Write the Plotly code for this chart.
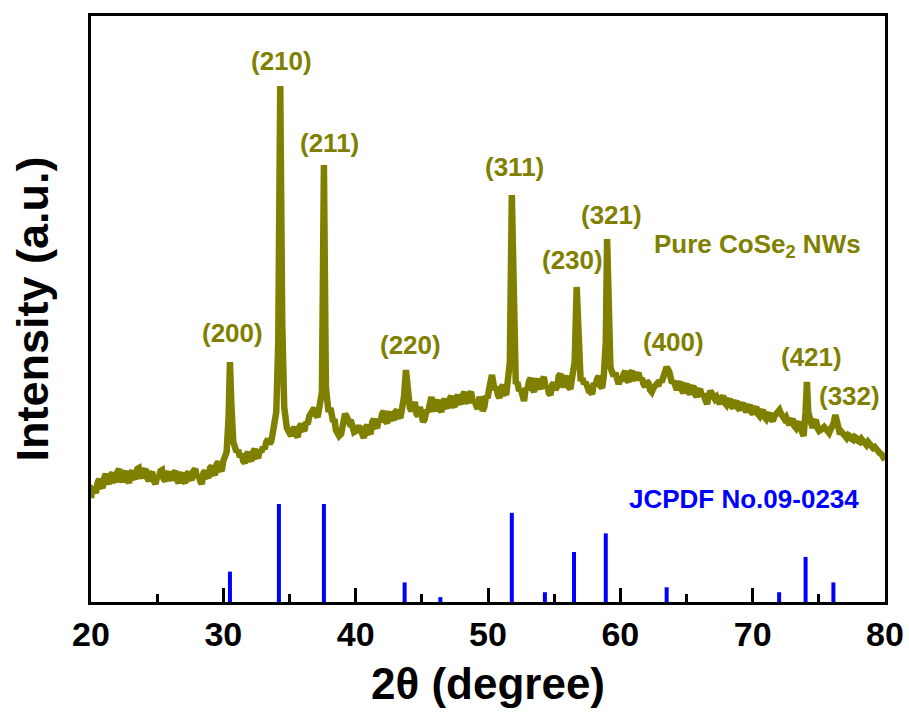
import plotly.graph_objects as go

# Measured XRD pattern of the CoSe2 nanowires (2theta in degrees, intensity in a.u.)
two_theta = [
    20.0, 20.25, 20.5, 20.75, 21.0, 21.25, 21.5, 21.75, 22.0, 22.25, 22.5, 22.75,
    23.0, 23.25, 23.5, 23.75, 24.0, 24.25, 24.5, 24.75, 25.0, 25.25, 25.5, 25.75,
    26.0, 26.25, 26.5, 26.75, 27.0, 27.25, 27.5, 27.75, 28.0, 28.25, 28.5, 28.75,
    29.0, 29.25, 29.5, 29.75, 30.0, 30.25, 30.4, 30.5, 30.6, 30.75, 31.0, 31.25,
    31.5, 31.75, 32.0, 32.25, 32.5, 32.75, 33.0, 33.25, 33.5, 33.75, 34.0, 34.15,
    34.3, 34.45, 34.6, 34.8, 35.0, 35.25, 35.5, 35.75, 36.0, 36.25, 36.5, 36.75,
    37.0, 37.25, 37.45, 37.6, 37.75, 37.95, 38.1, 38.3, 38.5, 38.75, 38.9, 39.1,
    39.3, 39.5, 39.75, 40.0, 40.25, 40.5, 40.75, 41.0, 41.25, 41.5, 41.75, 42.0,
    42.25, 42.5, 42.75, 43.0, 43.25, 43.5, 43.65, 43.8, 43.95, 44.1, 44.35, 44.6,
    44.85, 45.1, 45.35, 45.6, 45.85, 46.1, 46.35, 46.6, 46.85, 47.1, 47.35, 47.6,
    47.85, 48.1, 48.35, 48.6, 48.85, 49.1, 49.35, 49.6, 49.85, 50.1, 50.3, 50.5,
    50.75, 51.0, 51.25, 51.5, 51.65, 51.8, 51.95, 52.1, 52.35, 52.6, 52.85, 53.1,
    53.35, 53.6, 53.85, 54.1, 54.35, 54.6, 54.85, 55.1, 55.35, 55.6, 55.85, 56.1,
    56.35, 56.55, 56.7, 56.85, 57.0, 57.25, 57.5, 57.75, 58.0, 58.25, 58.5, 58.75,
    58.9, 59.0, 59.1, 59.25, 59.5, 59.75, 60.0, 60.25, 60.5, 60.75, 61.0, 61.25,
    61.5, 61.75, 62.0, 62.25, 62.5, 62.75, 63.0, 63.25, 63.5, 63.7, 63.9, 64.15,
    64.4, 64.65, 64.9, 65.15, 65.4, 65.65, 65.9, 66.15, 66.4, 66.55, 66.7, 66.9,
    67.15, 67.4, 67.65, 67.9, 68.15, 68.4, 68.65, 68.9, 69.15, 69.4, 69.65, 69.9,
    70.15, 70.4, 70.65, 70.9, 71.15, 71.4, 71.65, 71.9, 72.15, 72.4, 72.65, 72.9,
    73.15, 73.4, 73.65, 73.85, 74.0, 74.1, 74.2, 74.4, 74.65, 74.9, 75.15, 75.4,
    75.65, 75.9, 76.1, 76.25, 76.4, 76.6, 76.85, 77.1, 77.35, 77.6, 77.85, 78.1,
    78.35, 78.6, 78.85, 79.1, 79.35, 79.6, 79.85, 80.0,
]
intensity = [
    104, 112, 119, 116, 124, 121, 127, 122, 130, 124, 128, 122,
    129, 125, 133, 127, 131, 124, 128, 121, 126, 131, 123, 128,
    124, 129, 122, 127, 121, 128, 124, 131, 125, 121, 129, 126,
    134, 129, 138, 133, 141, 150, 185, 240, 200, 160, 150, 145,
    141, 147, 143, 150, 146, 152, 155, 160, 158, 170, 190, 260,
    516, 280, 195, 174, 168, 172, 167, 175, 173, 180, 186, 191,
    187, 194, 210, 437, 215, 190, 194, 180, 172, 166, 168, 178,
    186, 180, 174, 171, 176, 167, 174, 170, 180, 176, 183, 188,
    181, 187, 184, 190, 186, 193, 205, 232, 205, 194, 198, 188,
    195, 180, 192, 202, 194, 199, 193, 200, 196, 203, 197, 204,
    200, 207, 201, 208, 199, 197, 205, 191, 206, 214, 227, 212,
    207, 214, 209, 222, 240, 407, 250, 218, 211, 204, 214, 221,
    213, 220, 216, 222, 214, 209, 217, 212, 226, 218, 223, 215,
    224, 240, 315, 240, 221, 218, 213, 210, 219, 223, 216, 226,
    260, 363, 290, 235, 226, 220, 223, 228, 222, 229, 224, 227,
    222, 218, 221, 212, 214, 218, 222, 225, 235, 230, 219, 214,
    218, 212, 216, 210, 214, 208, 211, 206, 203, 198, 207, 209,
    203, 200, 204, 199, 201, 196, 199, 194, 197, 193, 195, 190,
    193, 188, 190, 185, 187, 183, 186, 190, 188, 183, 179, 181,
    176, 178, 173, 166, 190, 220, 190, 176, 180, 174, 172, 175,
    171, 173, 178, 187, 175, 168, 167, 164, 166, 162, 164, 160,
    161, 157, 158, 154, 152, 149, 146, 142,
]

# Intermediate scan points along the background (noise between the coarse samples)
two_theta_fine = [
    20.125, 20.375, 20.625, 20.875, 21.125, 21.375, 21.625, 21.875, 22.125, 22.375,
    22.625, 22.875, 23.125, 23.375, 23.625, 23.875, 24.125, 24.375, 24.625, 24.875,
    25.125, 25.375, 25.625, 25.875, 26.125, 26.375, 26.625, 26.875, 27.125, 27.375,
    27.625, 27.875, 28.125, 28.375, 28.625, 28.875, 29.125, 29.375, 29.625, 29.875,
    30.125, 31.125, 31.375, 31.625, 31.875, 32.125, 32.375, 32.625, 32.875, 33.125,
    33.375, 33.625, 35.125, 35.375, 35.625, 35.875, 36.125, 36.375, 36.625, 36.875,
    37.125, 38.4, 38.625, 39.2, 39.4, 39.625, 39.875, 40.125, 40.375, 40.625,
    40.875, 41.125, 41.375, 41.625, 41.875, 42.125, 42.375, 42.625, 42.875, 43.125,
    43.375, 44.225, 44.475, 44.725, 44.975, 45.225, 45.475, 45.725, 45.975, 46.225,
    46.475, 46.725, 46.975, 47.225, 47.475, 47.725, 47.975, 48.225, 48.475, 48.725,
    48.975, 49.225, 49.475, 49.725, 49.975, 50.625, 50.875, 51.125, 51.375, 52.225,
    52.475, 52.725, 52.975, 53.225, 53.475, 53.725, 53.975, 54.225, 54.475, 54.725,
    54.975, 55.225, 55.475, 55.725, 55.975, 56.225, 57.125, 57.375, 57.625, 57.875,
    58.125, 58.375, 58.625, 59.375, 59.625, 59.875, 60.125, 60.375, 60.625, 60.875,
    61.125, 61.375, 61.625, 61.875, 62.125, 62.375, 62.625, 62.875, 63.125, 64.025,
    64.275, 64.525, 64.775, 65.025, 65.275, 65.525, 65.775, 66.025, 66.275, 66.8,
    67.025, 67.275, 67.525, 67.775, 68.025, 68.275, 68.525, 68.775, 69.025, 69.275,
    69.525, 69.775, 70.025, 70.275, 70.525, 70.775, 71.025, 71.275, 71.525, 71.775,
    72.025, 72.275, 72.525, 72.775, 73.025, 73.275, 73.525, 74.525, 74.775, 75.025,
    75.275, 75.525, 75.775, 76.725, 76.975, 77.225, 77.475, 77.725, 77.975, 78.225,
    78.475, 78.725, 78.975, 79.225, 79.475, 79.725,
]
intensity_fine = [
    113, 109, 123, 114, 128, 118, 129, 120, 133, 120,
    131, 119, 131, 123, 134, 124, 133, 121, 130, 118,
    124, 132, 121, 130, 122, 131, 119, 129, 119, 130,
    122, 133, 127, 118, 131, 124, 136, 127, 140, 131,
    144, 152, 148, 139, 150, 141, 153, 144, 150, 153,
    163, 161, 166, 175, 165, 178, 171, 178, 189, 194,
    185, 183, 169, 188, 183, 182, 170, 174, 172, 164,
    177, 168, 183, 174, 180, 191, 179, 190, 182, 192,
    184, 191, 200, 186, 189, 183, 190, 205, 191, 202,
    190, 203, 194, 206, 195, 207, 198, 210, 199, 210,
    202, 193, 201, 195, 204, 215, 204, 217, 207, 220,
    213, 201, 212, 224, 210, 223, 213, 225, 216, 207,
    219, 216, 228, 215, 226, 213, 224, 220, 211, 208,
    216, 226, 214, 230, 229, 218, 221, 231, 220, 231,
    222, 229, 224, 215, 219, 210, 217, 216, 220, 221,
    212, 220, 209, 218, 208, 216, 205, 213, 208, 211,
    206, 205, 198, 206, 197, 203, 194, 201, 192, 199,
    190, 197, 188, 195, 186, 192, 183, 189, 181, 188,
    192, 186, 185, 177, 183, 174, 180, 174, 182, 171,
    174, 173, 169, 170, 165, 167, 163, 165, 161, 163,
    158, 160, 156, 155, 150, 148,
]

# JCPDF No.09-0234 reference reflections (relative intensity, %)
ref_two_theta = [30.5, 34.2, 37.6, 43.7, 46.4, 51.8, 54.3, 56.5, 58.9, 63.5, 72.0, 74.0, 76.1]
ref_intensity = [31, 100, 100, 20, 5, 91, 10, 51, 70, 15, 10, 46, 20]

# Miller indices of the indexed peaks and where their labels sit
hkl_labels = ["(200)", "(210)", "(211)", "(220)", "(311)", "(230)", "(321)", "(400)", "(421)", "(332)"]
hkl_x = [30.73, 34.36, 37.99, 44.11, 51.97, 56.35, 59.30, 63.98, 74.41, 77.28]
hkl_y = [269, 541, 459, 257, 435, 342, 387, 260, 245, 206]

OLIVE = "#808000"
BLUE = "#0000FF"
FONT = "Liberation Sans, Arial, sans-serif"

# Merge coarse and intermediate samples into one scan ordered by angle
scan = sorted(zip(two_theta + two_theta_fine, intensity + intensity_fine))
scan_x = [p[0] for p in scan]
scan_y = [p[1] for p in scan]

stick_x, stick_y = [], []
for p, h in zip(ref_two_theta, ref_intensity):
    stick_x += [p, p, None]
    stick_y += [0, h, None]

fig = go.Figure()
fig.add_trace(go.Scatter(
    x=stick_x, y=stick_y, mode="lines", yaxis="y2",
    line=dict(color=BLUE, width=4), hoverinfo="skip", showlegend=False,
))
fig.add_trace(go.Scatter(
    x=scan_x, y=scan_y, mode="lines",
    line=dict(color=OLIVE, width=6.5), showlegend=False,
))

for t, x, y in zip(hkl_labels, hkl_x, hkl_y):
    fig.add_annotation(x=x, y=y, text=t, showarrow=False,
                       font=dict(family=FONT, size=26, color=OLIVE, weight="bold"),
                       xanchor="center", yanchor="middle")

fig.add_annotation(x=70.4, y=357, text="Pure CoSe<sub>2</sub> NWs", showarrow=False,
                   font=dict(family=FONT, size=26, color=OLIVE, weight="bold"),
                   xanchor="center", yanchor="middle")
fig.add_annotation(x=69.35, y=103, text="JCPDF No.09-0234", showarrow=False,
                   font=dict(family=FONT, size=26, color=BLUE, weight="bold"),
                   xanchor="center", yanchor="middle")

fig.update_layout(
    width=909, height=713,
    margin=dict(l=91, r=24, t=16, b=111, autoexpand=False),
    paper_bgcolor="white", plot_bgcolor="white",
    font=dict(family=FONT, color="black"),
    xaxis=dict(
        range=[20, 80], dtick=10, tick0=20, automargin=False,
        showgrid=False, zeroline=False,
        showline=True, linecolor="black", linewidth=3, mirror=True,
        ticks="inside", ticklen=14, tickwidth=3, tickcolor="black",
        minor=dict(ticks="inside", ticklen=8, tickwidth=3, tickcolor="black", dtick=5, tick0=20, showgrid=False),
        tickfont=dict(family=FONT, size=34, color="black", weight="bold"),
        title=dict(text="2θ (degree)", standoff=17,
                   font=dict(family=FONT, size=44, color="black", weight="bold")),
    ),
    yaxis=dict(
        range=[0, 586], showticklabels=False, ticks="", automargin=False,
        showgrid=False, zeroline=False,
        showline=True, linecolor="black", linewidth=3, mirror=True,
        title=dict(text="Intensity (a.u.)", standoff=26,
                   font=dict(family=FONT, size=45, color="black", weight="bold")),
    ),
    yaxis2=dict(range=[0, 598], overlaying="y", visible=False),
)

fig.write_html("out.html")
